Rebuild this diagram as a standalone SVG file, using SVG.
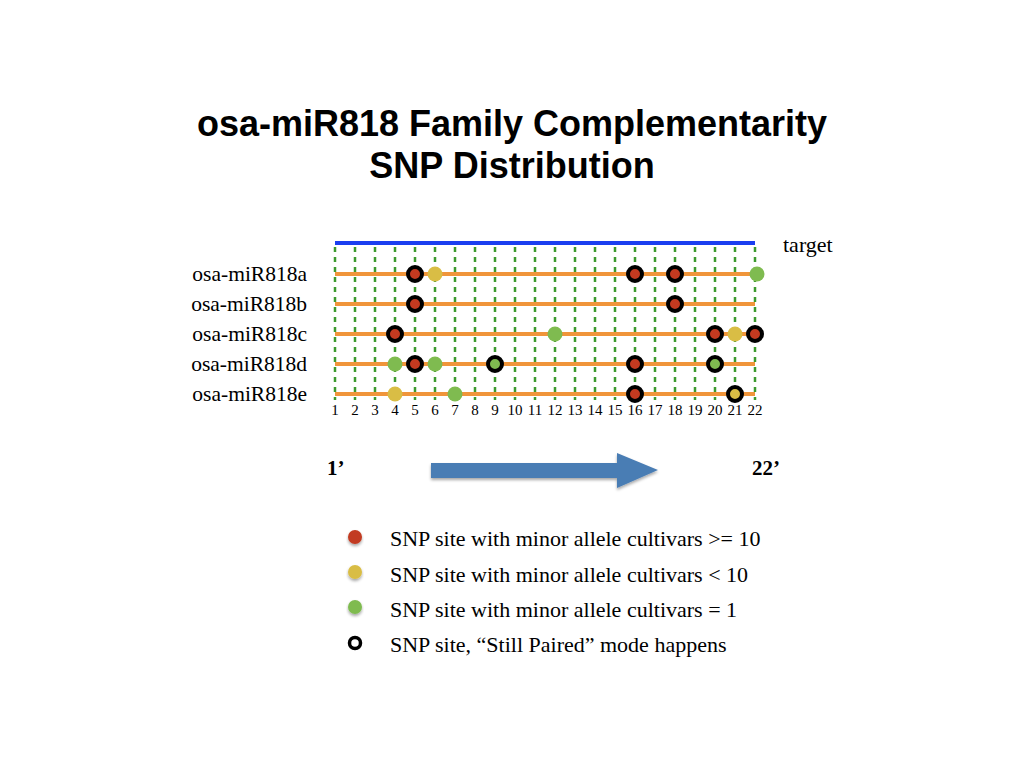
<svg xmlns="http://www.w3.org/2000/svg" width="1024" height="768" viewBox="0 0 1024 768">
  <defs>
    <style>
      .title { font-family: "Liberation Sans", Arial, sans-serif; font-weight: bold; font-size: 36px; fill: #000; }
      .label { font-family: "Liberation Serif", "Times New Roman", serif; font-size: 21.5px; fill: #000; }
      .legend { font-family: "Liberation Serif", "Times New Roman", serif; font-size: 22px; fill: #000; }
      .num { font-family: "Liberation Serif", "Times New Roman", serif; font-size: 15px; fill: #000; text-anchor: middle; }
      .end { font-family: "Liberation Serif", "Times New Roman", serif; font-size: 21px; font-weight: bold; fill: #000; }
      .grid { stroke: #3c9a2e; stroke-width: 2.5; stroke-dasharray: 5 5; }
      .strand { stroke: #f0953a; stroke-width: 4; }
      .target { stroke: #1a3ef0; stroke-width: 4; }
      .red { fill: #c23a20; }
      .yellow { fill: #d9bd45; }
      .green { fill: #7fbb50; }
      circle.snp { r: 7.5px; }
      circle.paired { r: 7px; stroke: #000; stroke-width: 4; }
    </style>
    <filter id="shadow" x="-10%" y="-30%" width="120%" height="160%">
      <feDropShadow dx="0" dy="2" stdDeviation="1.5" flood-color="#000" flood-opacity="0.35"/>
    </filter>
  </defs>

  <!-- title -->
  <text class="title" x="512" y="136" text-anchor="middle">osa-miR818 Family Complementarity</text>
  <text class="title" x="512" y="178" text-anchor="middle">SNP Distribution</text>

  <!-- vertical position grid, one dashed line per nucleotide (x = 335 + 20*(i-1)) -->
  <g id="grid">
    <path class="grid" d="M335 247V400M355 247V400M375 247V400M395 247V400M415 247V400M435 247V400M455 247V400M475 247V400M495 247V400M515 247V400M535 247V400M555 247V400M575 247V400M595 247V400M615 247V400M635 247V400M655 247V400M675 247V400M695 247V400M715 247V400M735 247V400M755 247V400"/>
  </g>

  <!-- target strand and miRNA strands -->
  <g id="connectors">
    <line class="target" x1="335" y1="243" x2="755" y2="243"/>
    <line class="strand" x1="335" y1="274" x2="755" y2="274"/>
    <line class="strand" x1="335" y1="304" x2="755" y2="304"/>
    <line class="strand" x1="335" y1="334" x2="755" y2="334"/>
    <line class="strand" x1="335" y1="364" x2="755" y2="364"/>
    <line class="strand" x1="335" y1="394" x2="755" y2="394"/>
  </g>

  <text class="legend" x="783" y="252">target</text>

  <!-- row labels -->
  <g id="labels">
    <text class="label" x="307" y="281" text-anchor="end">osa-miR818a</text>
    <text class="label" x="307" y="311" text-anchor="end">osa-miR818b</text>
    <text class="label" x="307" y="341" text-anchor="end">osa-miR818c</text>
    <text class="label" x="307" y="371" text-anchor="end">osa-miR818d</text>
    <text class="label" x="307" y="401" text-anchor="end">osa-miR818e</text>
  </g>

  <!-- position numbers -->
  <g id="positions">
    <text class="num" x="335" y="415">1</text>
    <text class="num" x="355" y="415">2</text>
    <text class="num" x="375" y="415">3</text>
    <text class="num" x="395" y="415">4</text>
    <text class="num" x="415" y="415">5</text>
    <text class="num" x="435" y="415">6</text>
    <text class="num" x="455" y="415">7</text>
    <text class="num" x="475" y="415">8</text>
    <text class="num" x="495" y="415">9</text>
    <text class="num" x="515" y="415">10</text>
    <text class="num" x="535" y="415">11</text>
    <text class="num" x="555" y="415">12</text>
    <text class="num" x="575" y="415">13</text>
    <text class="num" x="595" y="415">14</text>
    <text class="num" x="615" y="415">15</text>
    <text class="num" x="635" y="415">16</text>
    <text class="num" x="655" y="415">17</text>
    <text class="num" x="675" y="415">18</text>
    <text class="num" x="695" y="415">19</text>
    <text class="num" x="715" y="415">20</text>
    <text class="num" x="735" y="415">21</text>
    <text class="num" x="755" y="415">22</text>
  </g>

  <!-- SNP sites -->
  <g id="snp-a">
    <circle class="snp red paired" cx="415" cy="274" r="7"/>
    <circle class="snp yellow" cx="435" cy="274" r="7.5"/>
    <circle class="snp red paired" cx="635" cy="274" r="7"/>
    <circle class="snp red paired" cx="675" cy="274" r="7"/>
    <circle class="snp green" cx="757" cy="274" r="7.5"/>
  </g>
  <g id="snp-b">
    <circle class="snp red paired" cx="415" cy="304" r="7"/>
    <circle class="snp red paired" cx="675" cy="304" r="7"/>
  </g>
  <g id="snp-c">
    <circle class="snp red paired" cx="395" cy="334" r="7"/>
    <circle class="snp green" cx="555" cy="334" r="7.5"/>
    <circle class="snp red paired" cx="715" cy="334" r="7"/>
    <circle class="snp yellow" cx="735" cy="334" r="7.5"/>
    <circle class="snp red paired" cx="755" cy="334" r="7"/>
  </g>
  <g id="snp-d">
    <circle class="snp green" cx="395" cy="364" r="7.5"/>
    <circle class="snp red paired" cx="415" cy="364" r="7"/>
    <circle class="snp green" cx="435" cy="364" r="7.5"/>
    <circle class="snp green paired" cx="495" cy="364" r="7"/>
    <circle class="snp red paired" cx="635" cy="364" r="7"/>
    <circle class="snp green paired" cx="715" cy="364" r="7"/>
  </g>
  <g id="snp-e">
    <circle class="snp yellow" cx="395" cy="394" r="7.5"/>
    <circle class="snp green" cx="455" cy="394" r="7.5"/>
    <circle class="snp red paired" cx="635" cy="394" r="7"/>
    <circle class="snp yellow paired" cx="735" cy="394" r="7"/>
  </g>

  <!-- direction arrow, 1' to 22' -->
  <g id="direction">
    <text class="end" x="327" y="475">1’</text>
    <polygon points="431,463 617,463 617,453 658,470 617,488 617,478 431,478" fill="#4a7db4" filter="url(#shadow)"/>
    <text class="end" x="752" y="475">22’</text>
  </g>

  <!-- legend -->
  <g id="legend">
    <circle class="red" cx="355" cy="537" r="7" filter="url(#shadow)"/>
    <text class="legend" x="390" y="546">SNP site with minor allele cultivars &gt;= 10</text>
    <circle class="yellow" cx="355" cy="572" r="7" filter="url(#shadow)"/>
    <text class="legend" x="390" y="582">SNP site with minor allele cultivars &lt; 10</text>
    <circle class="green" cx="355" cy="607" r="7" filter="url(#shadow)"/>
    <text class="legend" x="390" y="617">SNP site with minor allele cultivars = 1</text>
    <circle cx="355" cy="643" r="5.5" fill="#fff" stroke="#000" stroke-width="3.5"/>
    <text class="legend" x="390" y="652">SNP site, “Still Paired” mode happens</text>
  </g>
</svg>
